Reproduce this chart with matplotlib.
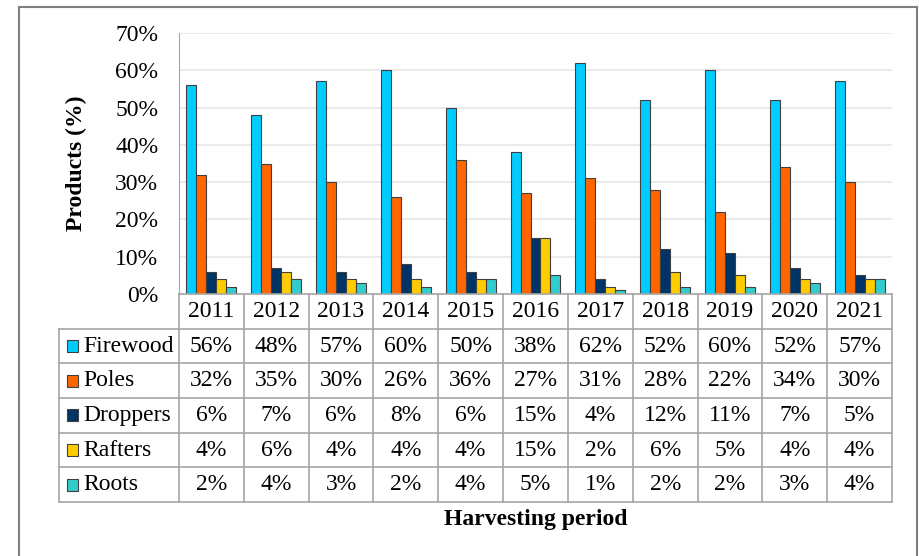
import matplotlib.pyplot as plt
from matplotlib.patches import Rectangle
import numpy as np

years = ['2011', '2012', '2013', '2014', '2015', '2016', '2017', '2018', '2019', '2020', '2021']
products = ['Firewood', 'Poles', 'Droppers', 'Rafters', 'Roots']
firewood = [56, 48, 57, 60, 50, 38, 62, 52, 60, 52, 57]
poles = [32, 35, 30, 26, 36, 27, 31, 28, 22, 34, 30]
droppers = [6, 7, 6, 8, 6, 15, 4, 12, 11, 7, 5]
rafters = [4, 6, 4, 4, 4, 15, 2, 6, 5, 4, 4]
roots = [2, 4, 3, 2, 4, 5, 1, 2, 2, 3, 4]
colors = ['#00CCFF', '#FF6600', '#003366', '#FFCC00', '#33CCCC']

plt.rcParams['font.family'] = ['Liberation Serif', 'DejaVu Serif']

W, H = 919, 556
fig = plt.figure(figsize=(W / 100, H / 100), dpi=100)

# outer frame
fig.patches.append(Rectangle((19 / W, -0.05), (917 - 19) / W, 1.05 - 7 / H,
                             transform=fig.transFigure, fill=False,
                             edgecolor='#7f7f7f', linewidth=1.5))

px_l, px_r, px_t, px_b = 179, 892, 33, 294
ax = fig.add_axes([px_l / W, 1 - px_b / H, (px_r - px_l) / W, (px_b - px_t) / H])

series = [firewood, poles, droppers, rafters, roots]
x = np.arange(len(years))
bw = 0.154
for i, (vals, c) in enumerate(zip(series, colors)):
    ax.bar(x + (i - 2) * bw, vals, bw, color=c, edgecolor='#404040',
           linewidth=0.8, zorder=3)

fs = 17
ax.set_xlim(-0.5, len(years) - 0.5)
ax.set_ylim(0, 70)
ax.set_yticks(range(0, 71, 10))
ax.set_yticklabels([f'{v}%' for v in range(0, 71, 10)], fontsize=fs)
ax.tick_params(axis='y', length=0, pad=15)
ax.set_xticks([])
ax.grid(axis='y', color='#e6e6e6', linewidth=1.2, zorder=0)
for s in ['top', 'right', 'bottom']:
    ax.spines[s].set_visible(False)
ax.spines['left'].set_color('#a6a6a6')
ax.set_ylabel('Products (%)', fontsize=fs, fontweight='bold', labelpad=20)

# data table below the chart
tb_l, tb_b = 59, 502
tax = fig.add_axes([tb_l / W, 1 - tb_b / H, (px_r - tb_l) / W, (tb_b - px_b) / H])
unit = (px_r - px_l) / len(years)
x0 = -0.5 - (px_l - tb_l) / unit
tax.set_xlim(x0, len(years) - 0.5)
tax.set_ylim(6, 0)
tax.axis('off')
gc = '#a6a6a6'
lw = 1.2
# horizontal lines
tax.plot([-0.5, len(years) - 0.5], [0, 0], color=gc, lw=lw, clip_on=False)
for r in range(1, 7):
    tax.plot([x0, len(years) - 0.5], [r, r], color=gc, lw=lw, clip_on=False)
# vertical lines
tax.plot([x0, x0], [1, 6], color=gc, lw=lw, clip_on=False)
for k in range(len(years) + 1):
    tax.plot([k - 0.5, k - 0.5], [0, 6], color=gc, lw=lw, clip_on=False)

for j, yr in enumerate(years):
    tax.text(j, 0.5, yr, ha='center', va='center', fontsize=fs)
sq = 11 / unit
for i, (name, vals, c) in enumerate(zip(products, series, colors)):
    row = i + 1.5
    tax.add_patch(Rectangle((x0 + 8 / unit, row - 0.17), sq, 0.34,
                            facecolor=c, edgecolor='#404040', lw=0.8))
    tax.text(x0 + 24 / unit, row, name, ha='left', va='center', fontsize=fs)
    for j, v in enumerate(vals):
        tax.text(j, row, f'{v}%', ha='center', va='center', fontsize=fs)

fig.text((px_l + px_r) / 2 / W, 1 - 520 / H, 'Harvesting period',
         ha='center', va='center', fontsize=fs, fontweight='bold')

fig.savefig('out.png', dpi=100)
